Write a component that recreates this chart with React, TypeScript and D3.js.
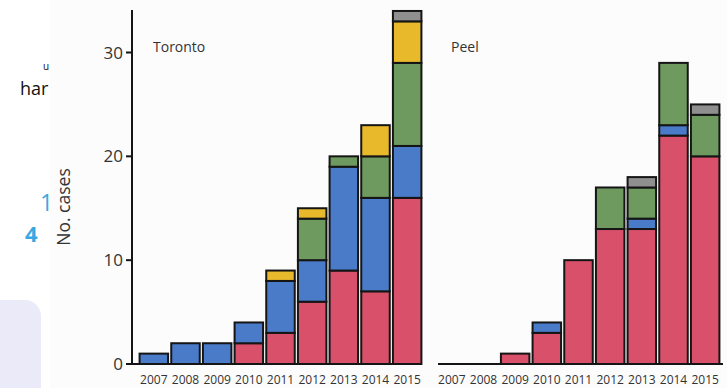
import React from "react";
import * as d3 from "d3";

const years = ["2007", "2008", "2009", "2010", "2011", "2012", "2013", "2014", "2015"];
const seriesKeys = ["red", "blue", "green", "yellow", "gray"];
const seriesColors = ["#d9506a", "#4a7bc8", "#6e9a5f", "#e9b92c", "#8f8f8f"];

const torontoRed = [0, 0, 0, 2, 3, 6, 9, 7, 16];
const torontoBlue = [1, 2, 2, 2, 5, 4, 10, 9, 5];
const torontoGreen = [0, 0, 0, 0, 0, 4, 1, 4, 8];
const torontoYellow = [0, 0, 0, 0, 1, 1, 0, 3, 4];
const torontoGray = [0, 0, 0, 0, 0, 0, 0, 0, 1];

const peelRed = [0, 0, 1, 3, 10, 13, 13, 22, 20];
const peelBlue = [0, 0, 0, 1, 0, 0, 1, 1, 0];
const peelGreen = [0, 0, 0, 0, 0, 4, 3, 6, 4];
const peelYellow = [0, 0, 0, 0, 0, 0, 0, 0, 0];
const peelGray = [0, 0, 0, 0, 0, 0, 1, 0, 1];

const yTicks = [0, 10, 20, 30];

function toRows(arrs: number[][]) {
  return years.map((yr, i) => {
    const row: any = { year: yr };
    seriesKeys.forEach((k, j) => (row[k] = arrs[j][i]));
    return row;
  });
}

const y = d3.scaleLinear().domain([0, 30]).range([364, 52.5]);

function Panel({ rows, x0, x1, label, lineX0, lineX1 }: any) {
  const x = d3.scaleBand<string>().domain(years).range([x0, x1]).paddingInner(0.1).paddingOuter(0.05);
  const stacked = d3.stack().keys(seriesKeys)(rows);
  return (
    <g>
      {stacked.map((s, si) =>
        s.map((d: any, i: number) => {
          if (d[1] - d[0] <= 0) return null;
          return (
            <rect
              key={si + "-" + i}
              x={x(years[i])!}
              y={y(d[1])}
              width={x.bandwidth()}
              height={y(d[0]) - y(d[1])}
              fill={seriesColors[si]}
              stroke="#151515"
              strokeWidth={2}
            />
          );
        })
      )}
      <line x1={lineX0} x2={lineX1} y1={y(0)} y2={y(0)} stroke="#151515" strokeWidth={2} />
      {years.map((yr) => (
        <text
          key={yr}
          x={x(yr)! + x.bandwidth() / 2}
          y={384}
          textAnchor="middle"
          fontSize={12}
          fill="#333"
          fontFamily="Open Sans, sans-serif"
        >
          {yr}
        </text>
      ))}
      <text x={x0 + 15} y={52} fontSize={14} fill="#333" fontFamily="Open Sans, sans-serif">
        {label}
      </text>
    </g>
  );
}

export default function App() {
  const toronto = toRows([torontoRed, torontoBlue, torontoGreen, torontoYellow, torontoGray]);
  const peel = toRows([peelRed, peelBlue, peelGreen, peelYellow, peelGray]);
  return (
    <svg width={727} height={388} style={{ position: "absolute", left: 0, top: 0 }}>
      <defs>
        <clipPath id="leftclip">
          <rect x={0} y={0} width={50} height={388} />
        </clipPath>
      </defs>
      <rect x={0} y={0} width={727} height={388} fill="#ffffff" />
      <rect x={-20} y={300} width={61} height={120} rx={16} fill="#ebeaf8" />
      <g clipPath="url(#leftclip)" fontFamily="Open Sans, sans-serif">
        <text x={20} y={95} fontSize={18} fill="#111">har</text>
        <text x={43} y={70} fontSize={10} fill="#111">u</text>
        <text x={25} y={242} fontSize={22} fontWeight="bold" fill="#3aa8e0">4</text>
      </g>
      <rect x={50} y={0} width={677} height={388} fill="#fcfcfc" />
      <text x={40} y={211} fontSize={23} fill="#3aa8e0" fontFamily="Open Sans, sans-serif">1</text>
      <line x1={132} x2={132} y1={10} y2={y(0)} stroke="#151515" strokeWidth={2} />
      {yTicks.map((t) => (
        <g key={t}>
          <line x1={126} x2={132} y1={y(t)} y2={y(t)} stroke="#151515" strokeWidth={2} />
          <text
            x={123}
            y={y(t) + 6}
            textAnchor="end"
            fontSize={17}
            fill="#333"
            fontFamily="Open Sans, sans-serif"
          >
            {t}
          </text>
        </g>
      ))}
      <text
        transform={`translate(70,207) rotate(-90)`}
        textAnchor="middle"
        fontSize={17.5}
        fill="#333"
        fontFamily="Open Sans, sans-serif"
      >
        No. cases
      </text>
      <Panel rows={toronto} x0={138} x1={423} label="Toronto" lineX0={132} lineX1={422} />
      <Panel rows={peel} x0={436} x1={721} label="Peel" lineX0={438} lineX1={723} />
    </svg>
  );
}
